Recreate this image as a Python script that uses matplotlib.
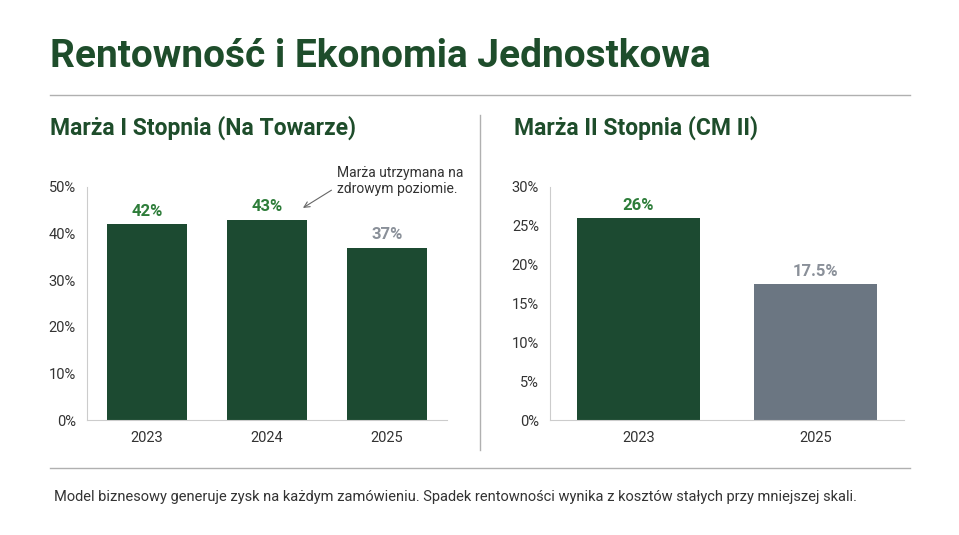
import matplotlib
matplotlib.use("Agg")
import matplotlib.pyplot as plt
from matplotlib.lines import Line2D

plt.rcParams['font.family'] = ['Roboto', 'DejaVu Sans']

left_cats = ["2023", "2024", "2025"]
left_vals = [42, 43, 37]
left_labels = ["42%", "43%", "37%"]
right_cats = ["2023", "2025"]
right_vals = [26, 17.5]
right_labels = ["26%", "17.5%"]

GREEN = "#1c4a31"
GREY = "#6b7682"
LGREEN = "#2e7d3a"
LGREY = "#8a9099"
W, H = 959, 535
fig = plt.figure(figsize=(W/100, H/100), dpi=100)
fig.patch.set_facecolor("white")

def ax_rect(x0, y0, x1, y1):
    return [x0/W, 1-y1/H, (x1-x0)/W, (y1-y0)/H]

fig.text(50/W, 1-57/H, "Rentowność i Ekonomia Jednostkowa", fontsize=28, fontweight='bold', color="#1e4d2b", va='center')
fig.add_artist(Line2D([50/W, 910/W], [1-95/H]*2, color="#b0b0b0", lw=1))
fig.add_artist(Line2D([480/W, 480/W], [1-115/H, 1-450/H], color="#b0b0b0", lw=1))
fig.add_artist(Line2D([50/W, 910/W], [1-468/H]*2, color="#b0b0b0", lw=1))
fig.text(50/W, 1-128/H, "Marża I Stopnia (Na Towarze)", fontsize=16.5, fontweight='bold', color="#1e4d2b", va='center')
fig.text(514/W, 1-128/H, "Marża II Stopnia (CM II)", fontsize=16.5, fontweight='bold', color="#1e4d2b", va='center')
fig.text(54/W, 1-497/H, "Model biznesowy generuje zysk na każdym zamówieniu. Spadek rentowności wynika z kosztów stałych przy mniejszej skali.",
         fontsize=10.5, color="#333333", va='center')

def style(ax):
    for s in ['top', 'right']:
        ax.spines[s].set_visible(False)
    for s in ['left', 'bottom']:
        ax.spines[s].set_color("#cccccc")
    ax.tick_params(length=0, labelsize=10.5, colors="#333333", pad=8)

ax1 = fig.add_axes(ax_rect(87, 187, 447, 420))
ax1.bar(range(3), left_vals, width=0.67, color=GREEN)
ax1.set_xlim(-0.5, 2.5); ax1.set_ylim(0, 50)
ax1.set_xticks(range(3), left_cats)
ax1.set_yticks(range(0, 51, 10), [f"{v}%" for v in range(0, 51, 10)])
style(ax1)
for i, (v, l) in enumerate(zip(left_vals, left_labels)):
    c = LGREY if i == 2 else LGREEN
    ax1.text(i, v + 1.2, l, ha='center', va='bottom', fontsize=12, fontweight='bold', color=c)
ax1.annotate("Marża utrzymana na\nzdrowym poziomie.", xy=(1.28, 45.2), xytext=(1.58, 51.3),
             fontsize=10, color="#333333", ha='left', va='center', annotation_clip=False,
             arrowprops=dict(arrowstyle='->', color="#666666", lw=0.8, relpos=(0, 0.3)))

ax2 = fig.add_axes(ax_rect(550, 187, 904, 420))
ax2.bar(range(2), right_vals, width=0.69, color=[GREEN, GREY])
ax2.set_xlim(-0.5, 1.5); ax2.set_ylim(0, 30)
ax2.set_xticks(range(2), right_cats)
ax2.set_yticks(range(0, 31, 5), [f"{v}%" for v in range(0, 31, 5)])
style(ax2)
for i, (v, l) in enumerate(zip(right_vals, right_labels)):
    c = LGREY if i == 1 else LGREEN
    ax2.text(i, v + 0.7, l, ha='center', va='bottom', fontsize=12, fontweight='bold', color=c)

fig.savefig("out.png", dpi=100, facecolor="white")
